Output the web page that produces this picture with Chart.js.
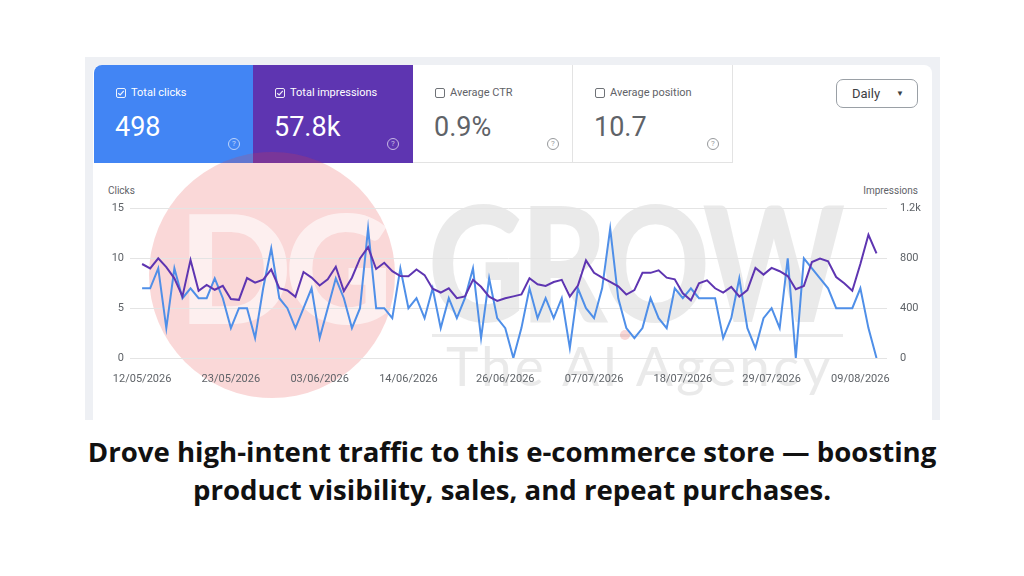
<!DOCTYPE html>
<html>
<head>
<meta charset="utf-8">
<script src="https://cdn.jsdelivr.net/npm/chart.js@4.4.1/dist/chart.umd.min.js"></script>
<style>
  html, body { margin: 0; padding: 0; background: #fff; }
  body { width: 1024px; height: 576px; position: relative; overflow: hidden; font-family: Roboto, Arial, sans-serif; }
  .frame { position: absolute; left: 85px; top: 57px; width: 855px; height: 363px; background: #eef0f4; }
  .card { position: absolute; left: 93px; top: 65px; width: 839px; height: 355px; background: #fff; border-radius: 8px 8px 0 0; }
  .tile { position: absolute; top: 65px; width: 160px; height: 98px; box-sizing: border-box; color: #5f6368; }
  .tile.clicks { left: 94px; background: #4285f4; color: #fff; border-top-left-radius: 8px; }
  .tile.impr { left: 253px; background: #5e35b1; color: #fff; }
  .tile.ctr { left: 413px; border-right: 1px solid #e3e3e3; border-bottom: 1px solid #e3e3e3; }
  .tile.pos { left: 573px; border-right: 1px solid #e3e3e3; border-bottom: 1px solid #e3e3e3; }
  .box { position: absolute; left: 22px; top: 23px; width: 10px; height: 10px; border: 1.3px solid currentColor; border-radius: 2px; box-sizing: border-box; opacity: .9; }
  .box svg { position: absolute; left: 0; top: 0; }
  .lbl { position: absolute; left: 37px; top: 22px; font-size: 11px; line-height: 12px; white-space: nowrap; }
  .val { position: absolute; left: 21px; top: 47px; font-size: 27px; line-height: 30px; white-space: nowrap; }
  .help { position: absolute; left: 134px; top: 73px; width: 12px; height: 12px; border: 1.2px solid currentColor; border-radius: 50%; box-sizing: border-box; font-size: 8px; line-height: 10px; text-align: center; opacity: .65; }
  .daily { position: absolute; left: 836px; top: 79px; width: 82px; height: 29px; box-sizing: border-box; border: 1px solid #9aa0a6; border-radius: 7px; font-size: 13px; line-height: 27px; color: #3c4043; padding-left: 15px; }
  .daily span { position: absolute; left: 59px; top: 0; font-size: 8px; }
  .axis-name { position: absolute; top: 185px; font-size: 10px; line-height: 12px; color: #5f6368; }
  #wrap { position: absolute; left: 94px; top: 196px; width: 836px; height: 200px; z-index: 2; }
  .wm { position: absolute; pointer-events: none; z-index: 1; }
  .circle { left: 149px; top: 152px; width: 246px; height: 246px; border-radius: 50%; background: rgba(230, 60, 60, 0.2); }
  .dg { left: 178px; top: 176px; font-family: Lato, sans-serif; font-weight: 900; font-size: 150px; line-height: 180px; color: rgba(255, 255, 255, 0.6); letter-spacing: -8px; }
  .grow { left: 428px; top: 170px; font-family: Lato, sans-serif; font-weight: 900; font-size: 160px; line-height: 180px; color: rgba(90, 90, 90, 0.13); letter-spacing: -6px; transform: scaleX(0.84); transform-origin: left top; }
  .bar { left: 432px; top: 334px; width: 411px; height: 3px; background: rgba(90, 90, 90, 0.12); }
  .agency { left: 446px; top: 335px; font-family: Lato, sans-serif; font-size: 55px; line-height: 60px; color: rgba(90, 90, 90, 0.13); letter-spacing: 3px; }
  .red-dot { left: 620px; top: 330px; width: 10px; height: 10px; border-radius: 50%; background: rgba(230, 60, 60, 0.2); }
  .caption { position: absolute; left: 0; top: 432px; width: 1024px; text-align: center; font-family: "Open Sans", sans-serif; font-weight: 700; font-size: 27.6px; line-height: 38px; color: #111; }
</style>
</head>
<body>
<div class="frame"></div>
<div class="card"></div>

<div class="tile clicks">
  <div class="box"><svg width="8" height="8" viewBox="0 0 8 8"><path d="M1.2 4.2 L3.2 6 L6.8 1.8" fill="none" stroke="#fff" stroke-width="1.2"/></svg></div>
  <div class="lbl">Total clicks</div>
  <div class="val">498</div>
  <div class="help">?</div>
</div>
<div class="tile impr">
  <div class="box"><svg width="8" height="8" viewBox="0 0 8 8"><path d="M1.2 4.2 L3.2 6 L6.8 1.8" fill="none" stroke="#fff" stroke-width="1.2"/></svg></div>
  <div class="lbl">Total impressions</div>
  <div class="val">57.8k</div>
  <div class="help">?</div>
</div>
<div class="tile ctr">
  <div class="box"></div>
  <div class="lbl">Average CTR</div>
  <div class="val">0.9%</div>
  <div class="help">?</div>
</div>
<div class="tile pos">
  <div class="box"></div>
  <div class="lbl">Average position</div>
  <div class="val">10.7</div>
  <div class="help">?</div>
</div>
<div class="daily">Daily<span>&#9660;</span></div>

<div class="axis-name" style="left:108px;">Clicks</div>
<div class="axis-name" style="left:818px; width:100px; text-align:right;">Impressions</div>

<div class="wm circle"></div>
<div class="wm dg">DG</div>
<div class="wm grow">GROW</div>
<div class="wm bar"></div>
<div class="wm agency">The AI Agency</div>
<div class="wm red-dot"></div>

<div id="wrap"><canvas id="gsc"></canvas></div>

<div class="caption">Drove high-intent traffic to this e-commerce store — boosting<br>product visibility, sales, and repeat purchases.</div>

<script>
// daily values, 12/05/2026 .. 11/08/2026 (92 days)
const clicks = [
  7, 7, 9, 3, 9, 6, 7, 6, 6, 8,
  6, 3, 5, 5, 2, 7, 11, 6, 5, 3,
  5, 7, 2, 5, 8, 6, 3, 5, 13, 5,
  5, 4, 9, 5, 6, 4, 7, 3, 6, 4,
  6, 9, 2, 8, 4, 3, 0, 3, 7, 4,
  6, 4, 6, 1, 7, 5, 4, 7, 13, 6,
  3, 2, 3, 6, 4, 3, 7, 6, 7, 6,
  6, 6, 2, 4, 8, 3, 1, 4, 5, 3,
  10, 0, 10, 9, 8, 7, 5, 5, 5, 7, 3, 0
];
const impressions = [
  755, 720, 800, 730, 640, 495, 788, 540, 587, 548,
  579, 474, 467, 642, 605, 630, 711, 561, 542, 491,
  691, 646, 582, 632, 733, 538, 645, 800, 890, 715,
  765, 697, 658, 656, 711, 666, 556, 526, 560, 481,
  495, 628, 572, 493, 458, 480, 495, 510, 640, 592,
  579, 610, 628, 494, 582, 784, 684, 645, 612, 575,
  510, 545, 684, 684, 704, 645, 632, 520, 463, 600,
  624, 560, 526, 571, 494, 545, 724, 670, 724, 697,
  658, 553, 579, 771, 798, 776, 650, 600, 540, 755, 990, 840
];
// day index of each date label on the x axis
const tickDays = [0, 11, 22, 33, 45, 56, 67, 78, 89];
const tickLabels = ['12/05/2026', '23/05/2026', '03/06/2026', '14/06/2026', '26/06/2026',
                    '07/07/2026', '18/07/2026', '29/07/2026', '09/08/2026'];

const tickFont = { family: 'Roboto', size: 11 };
const tickColor = '#5f6368';

const ctx = document.getElementById('gsc').getContext('2d');
new Chart(ctx, {
  type: 'line',
  data: {
    datasets: [
      {
        label: 'Impressions',
        data: impressions.map((v, i) => ({ x: i, y: v })),
        yAxisID: 'y1',
        borderColor: '#5e35b1',
        borderWidth: 2,
        pointRadius: 0,
        tension: 0
      },
      {
        label: 'Clicks',
        data: clicks.map((v, i) => ({ x: i, y: v })),
        yAxisID: 'y',
        borderColor: '#4f8fe8',
        borderWidth: 2,
        pointRadius: 0,
        tension: 0
      }
    ]
  },
  options: {
    responsive: true,
    maintainAspectRatio: false,
    animation: false,
    layout: { padding: { top: 11, left: 0, right: 0, bottom: 0 } },
    plugins: { legend: { display: false }, tooltip: { enabled: false } },
    scales: {
      x: {
        type: 'linear',
        min: -1.5,
        max: 92.3,
        grid: { display: false },
        border: { display: false },
        afterBuildTicks: s => { s.ticks = tickDays.map(v => ({ value: v })); },
        afterFit: s => { s.height = 38; },
        ticks: {
          autoSkip: false,
          maxRotation: 0,
          padding: 7,
          color: tickColor,
          font: tickFont,
          callback: v => tickLabels[tickDays.indexOf(v)]
        }
      },
      y: {
        position: 'left',
        min: 0,
        max: 15,
        afterFit: s => { s.width = 36; },
        grid: { color: '#e4e4e4', drawTicks: false },
        border: { display: false },
        ticks: { stepSize: 5, padding: 6, color: tickColor, font: tickFont }
      },
      y1: {
        position: 'right',
        min: 0,
        max: 1200,
        afterFit: s => { s.width = 43; },
        grid: { display: false },
        border: { display: false },
        ticks: {
          stepSize: 400,
          padding: 5,
          color: tickColor,
          font: tickFont,
          callback: v => v >= 1000 ? (v / 1000) + 'k' : v
        }
      }
    }
  }
});
</script>
</body>
</html>
